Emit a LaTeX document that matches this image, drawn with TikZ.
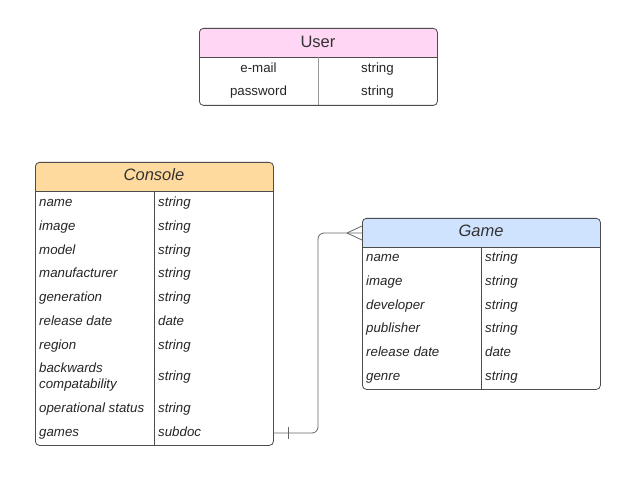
\documentclass[tikz,border=0pt]{standalone}
\usepackage{fontspec}
\setmainfont{Liberation Sans}
\begin{document}
\begin{tikzpicture}[x=1pt,y=-1pt,
  boxline/.style={draw=black!70, line width=0.8pt},
  hdrtext/.style={font=\fontsize{16.5}{18}\selectfont, text=black!80, text height=11.8pt, text depth=3.4pt, inner sep=0pt, yshift=-1pt},
  celltext/.style={font=\fontsize{13.3}{16}\selectfont\itshape, text=black!85, anchor=west, align=left, text height=9.6pt, text depth=2.8pt, inner sep=0pt, yshift=-1.5pt},
  ctrtext/.style={font=\fontsize{13.3}{16}\selectfont, text=black!85, text height=9.6pt, text depth=2.8pt, inner sep=0pt, yshift=-1.5pt},
  conn/.style={draw=black!60, line width=0.8pt},
  divline/.style={draw=black!70, line width=0.8pt}]
\definecolor{userhdr}{HTML}{FFD6F4}
\definecolor{consolehdr}{HTML}{FFDA9E}
\definecolor{gamehdr}{HTML}{CFE3FF}
\useasboundingbox (0,0) rectangle (634,478);

% ---------- User ----------
\fill[white, rounded corners=4] (199,28) rectangle (437,105);
\fill[userhdr] (199,57) {[rounded corners=4] -- (199,28) -- (437,28)} -- (437,57) -- cycle;
\draw[divline] (199,57) -- (437,57);
\draw[draw=black!40, line width=0.8pt] (318,57) -- (318,105);
\node[boxline, rounded corners=4, minimum width=238pt, minimum height=77pt, anchor=north west, inner sep=0pt] (user) at (199,28) {};
\node[hdrtext] (userh) at (318,42) {User};
\node[ctrtext] (u1) at (258.5,68) {e-mail};
\node[ctrtext] (u1t) at (377.5,68) {string};
\node[ctrtext] (u2) at (258.5,91) {password};
\node[ctrtext] (u2t) at (377.5,91) {string};

% ---------- Console ----------
\fill[white, rounded corners=4] (35,162) rectangle (273,445);
\fill[consolehdr] (35,191) {[rounded corners=4] -- (35,162) -- (273,162)} -- (273,191) -- cycle;
\draw[divline] (35,191) -- (273,191);
\draw[divline] (154,191) -- (154,445);
\node[boxline, rounded corners=4, minimum width=238pt, minimum height=283pt, anchor=north west, inner sep=0pt] (console) at (35,162) {};
\node[hdrtext, font=\fontsize{16.5}{18}\selectfont\itshape] (consoleh) at (154,175) {Console};
\foreach \n/\t/\y/\k in {name/string/202/c1, image/string/226/c2, model/string/250/c3, manufacturer/string/273/c4, generation/string/297/c5, release date/date/321/c6, region/string/345/c7, operational status/string/408/c9, games/subdoc/432/c10}{
  \node[celltext] (\k) at (39,\y) {\n};
  \node[celltext] (\k t) at (158,\y) {\t};
}
\node[celltext, text height=, text depth=] (c8) at (39,376) {backwards\\compatability};
\node[celltext] (c8t) at (158,376) {string};

% ---------- Game ----------
\fill[white, rounded corners=4] (362,218) rectangle (600,389);
\fill[gamehdr] (362,247) {[rounded corners=4] -- (362,218) -- (600,218)} -- (600,247) -- cycle;
\draw[divline] (362,247) -- (600,247);
\draw[divline] (481,247) -- (481,389);
\node[boxline, rounded corners=4, minimum width=238pt, minimum height=171pt, anchor=north west, inner sep=0pt] (game) at (362,218) {};
\node[hdrtext, font=\fontsize{16.5}{18}\selectfont\itshape] (gameh) at (481,231) {Game};
\coordinate (gamein) at (362,233);
\foreach \n/\t/\y/\k in {name/string/257/g1, image/string/281/g2, developer/string/305/g3, publisher/string/328/g4, release date/date/352/g5, genre/string/376/g6}{
  \node[celltext] (\k) at (366,\y) {\n};
  \node[celltext] (\k t) at (485,\y) {\t};
}

% ---------- Connector ----------
\coordinate (gamesout) at (273,433);
\draw[conn, rounded corners=6] (gamesout) -- (318,433) -- (318,233) -- (gamein);
\draw[conn] (288,427) -- (288,439);
\draw[conn] (347,233) -- (362,226);
\draw[conn] (347,233) -- (362,240);
\end{tikzpicture}
\end{document}
